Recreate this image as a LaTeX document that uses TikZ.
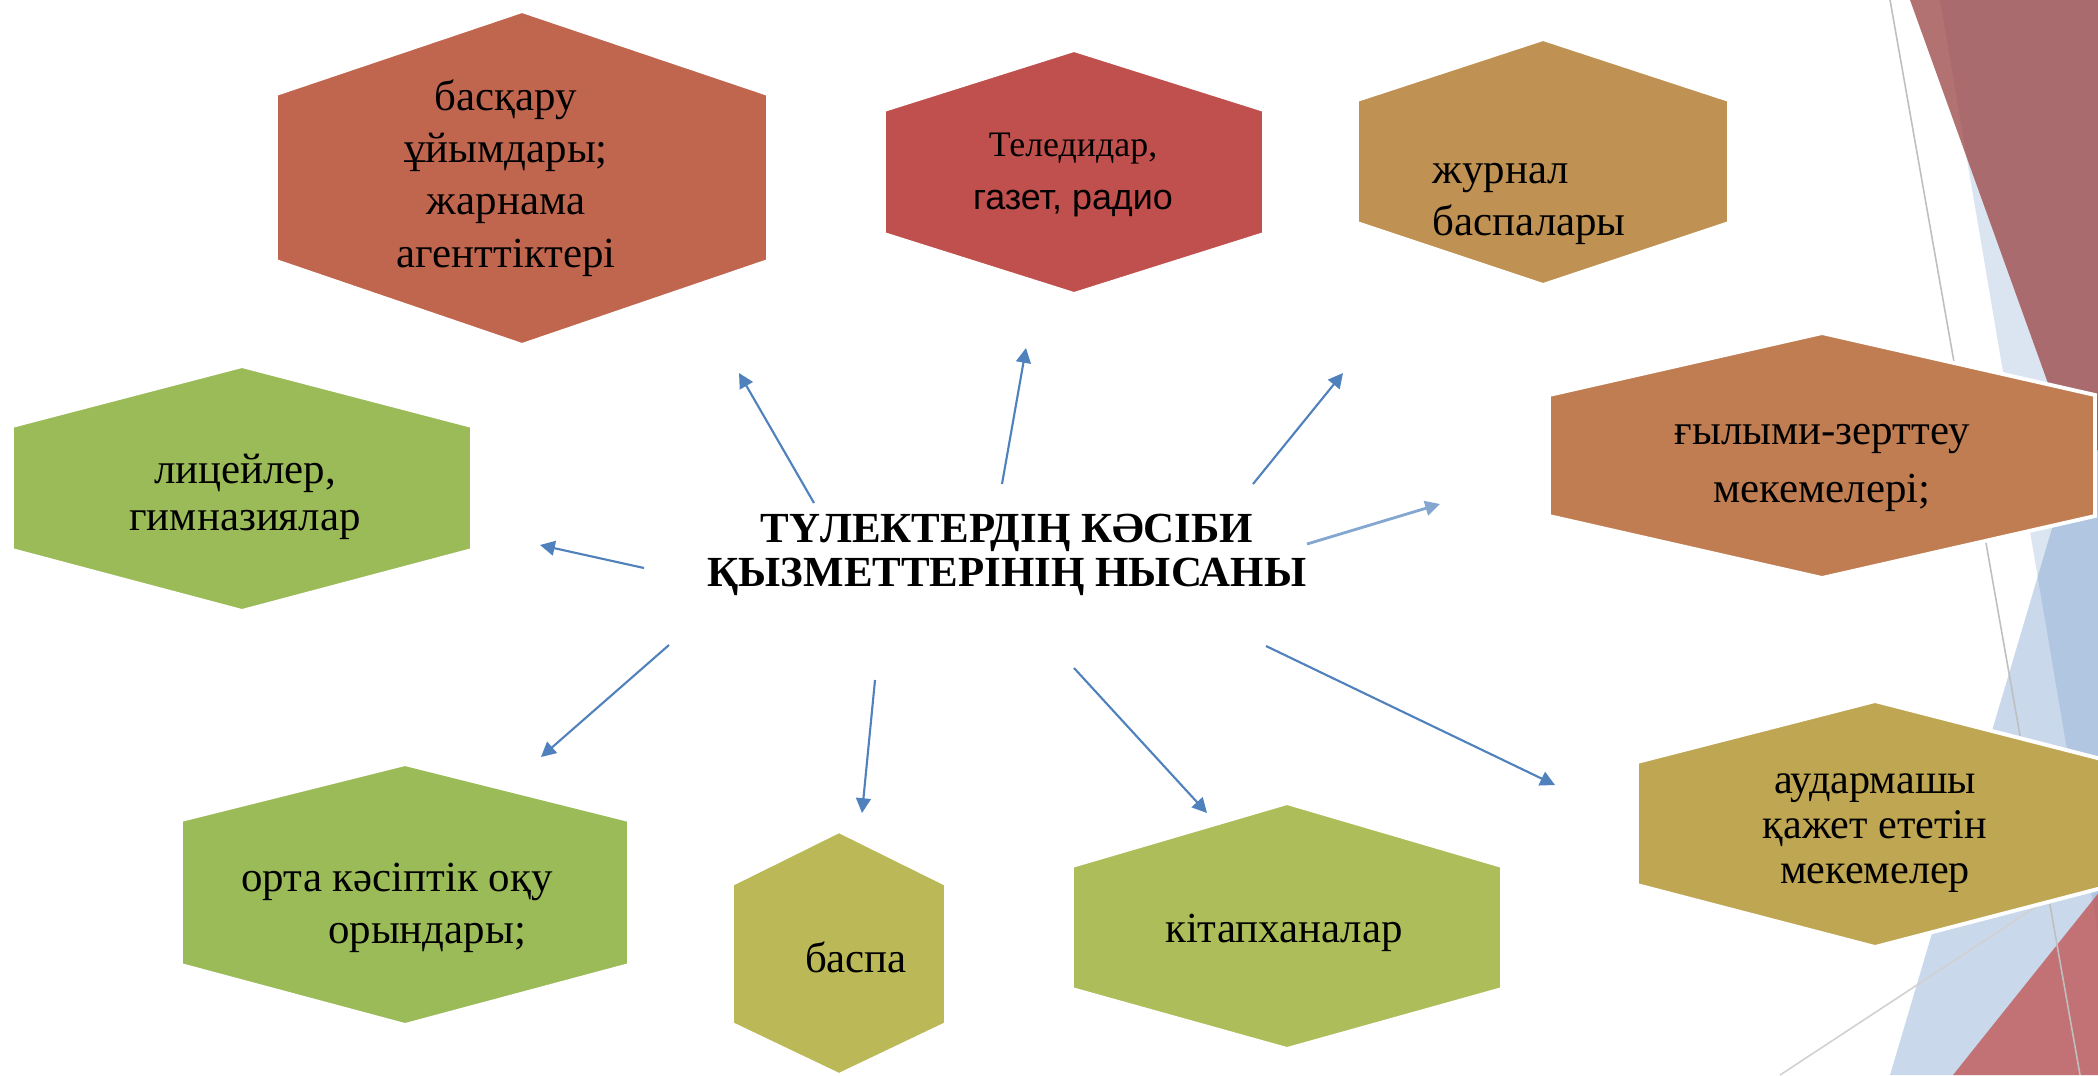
\documentclass[tikz,border=0pt]{standalone}
\usepackage{fontspec}
\setmainfont{Liberation Serif}
\newfontfamily\arialfont{Liberation Sans}
\usetikzlibrary{arrows.meta}

\definecolor{hexRust}{HTML}{C0664F}
\definecolor{hexRed}{HTML}{C0504D}
\definecolor{hexTan}{HTML}{BF9153}
\definecolor{hexCopper}{HTML}{C07D51}
\definecolor{hexGreen}{HTML}{9BBB59}
\definecolor{hexOlive}{HTML}{BBB957}
\definecolor{hexLime}{HTML}{ADBD59}
\definecolor{hexGold}{HTML}{BEA653}
\definecolor{linkBlue}{HTML}{4F81BD}
\definecolor{facetMaroon}{RGB}{150,60,60}

\tikzset{
  hexlabel/.style={inner sep=0pt, align=center, font=\fontsize{12.2}{14.8}\selectfont},
  link/.style={draw=linkBlue, line width=0.6pt, -{Triangle[length=4.2pt,width=4.2pt]}},
}

% hexagon: fill, centre x, left x, top y, upper shoulder y, lower shoulder y, bottom y
\newcommand{\hexcell}[7]{%
  \filldraw[draw=white, line width=1.1pt, fill=#1]
    (#3,#5) -- (#2,#4) -- ({2*#2-#3},#5) -- ({2*#2-#3},#6) -- (#2,#7) -- (#3,#6) -- cycle;}

\begin{document}
\begin{tikzpicture}[x=0.01cm, y=-0.01cm]
    \useasboundingbox (0,0) rectangle (2098,1075);
    \fill[white] (0,0) rectangle (2098,1075);
    % facets on the right
    \begin{scope}
        \clip (0,0) rectangle (2098,1075);
        \fill[linkBlue, fill opacity=0.2] (1940,0) -- (2200,0) -- (2200,1075) -- (2122,1075) -- cycle;
        \fill[linkBlue, fill opacity=0.3] (1890,1075) -- (2090,400) -- (2200,400) -- (2200,1075) -- cycle;
        \fill[facetMaroon, fill opacity=0.72] (1910,0) -- (2200,0) -- (2200,450) -- (2072,450) -- cycle;
        \fill[hexRed, fill opacity=0.75] (1953,1075) -- (2200,766) -- (2200,1075) -- cycle;
        \draw[black!25, line width=0.45pt] (1890,0) -- (2080,1075);
        \draw[black!18, line width=0.45pt] (1780,1075) -- (2098,866);
    \end{scope}

    \hexcell{hexRust}{522}{276}{11}{94}{261}{345}
    \hexcell{hexRed}{1074}{884}{50}{110}{234}{294}
    \hexcell{hexTan}{1543}{1357}{39}{100}{223}{285}
    \hexcell{hexCopper}{1822}{1549}{333}{395}{516}{578}
    \hexcell{hexGreen}{242}{12}{366}{426}{550}{611}
    \hexcell{hexGreen}{405}{181}{764}{820}{965}{1025}
    \hexcell{hexOlive}{839}{732}{831}{884}{1024}{1075}
    \hexcell{hexLime}{1287}{1072}{803}{866}{989}{1049}
    \hexcell{hexGold}{1875}{1637}{701}{762}{885}{947}

    \node[hexlabel, font=\fontsize{12.2}{14.9}\selectfont] (basqaru) at (506,178) {басқару\\ұйымдары;\\жарнама\\агенттіктері};
    \node[hexlabel, font=\fontsize{10.2}{15.1}\selectfont] (teledidar) at (1073,175) {Теледидар,\\{\arialfont газет, радио}};
    \node[hexlabel, align=left, anchor=west] (jurnal) at (1432,204) {журнал\\баспалары};
    \node[hexlabel, font=\fontsize{12.2}{16.4}\selectfont] (gylymi) at (1822,468) {ғылыми-зерттеу\\мекемелері;};
    \node[hexlabel, font=\fontsize{12.2}{13.4}\selectfont] (litsei) at (245,497) {лицейлер,\\гимназиялар};
    \node[hexlabel] (orta) at (397,908) {орта кәсіптік оқу\\\hspace*{0.6cm}орындары;};
    \node[hexlabel, anchor=base] (baspa) at (856,972) {баспа};
    \node[hexlabel, anchor=base] (kitap) at (1284,942) {кітапханалар};
    \node[hexlabel, font=\fontsize{12}{12.8}\selectfont] (audarma) at (1875,833) {аудармашы\\қажет ететін\\мекемелер};
    \node[hexlabel, font=\bfseries\fontsize{12.2}{12.6}\selectfont] (title) at (1007,555) {ТҮЛЕКТЕРДІҢ КӘСІБИ\\ҚЫЗМЕТТЕРІНІҢ НЫСАНЫ};

    % arrow ends
    \path (814,503) coordinate (fBasqaru) (739,373) coordinate (tBasqaru);
    \path (1002,484) coordinate (fTeledidar) (1026,348) coordinate (tTeledidar);
    \path (1253,484) coordinate (fJurnal) (1343,373) coordinate (tJurnal);
    \path (1307,544) coordinate (fGylymi) (1440,504) coordinate (tGylymi);
    \path (644,568) coordinate (fLitsei) (540,545) coordinate (tLitsei);
    \path (669,645) coordinate (fOrta) (541,757) coordinate (tOrta);
    \path (875,680) coordinate (fBaspa) (862,813) coordinate (tBaspa);
    \path (1074,668) coordinate (fKitap) (1207,813) coordinate (tKitap);
    \path (1266,646) coordinate (fAudarma) (1555,785) coordinate (tAudarma);

    \draw [link] (fBasqaru) -- (tBasqaru);
    \draw [link] (fTeledidar) -- (tTeledidar);
    \draw [link] (fJurnal) -- (tJurnal);
    \draw [link, draw=linkBlue!70, line width=0.8pt] (fGylymi) -- (tGylymi);
    \draw [link] (fLitsei) -- (tLitsei);
    \draw [link] (fOrta) -- (tOrta);
    \draw [link] (fBaspa) -- (tBaspa);
    \draw [link] (fKitap) -- (tKitap);
    \draw [link] (fAudarma) -- (tAudarma);
\end{tikzpicture}
\end{document}
